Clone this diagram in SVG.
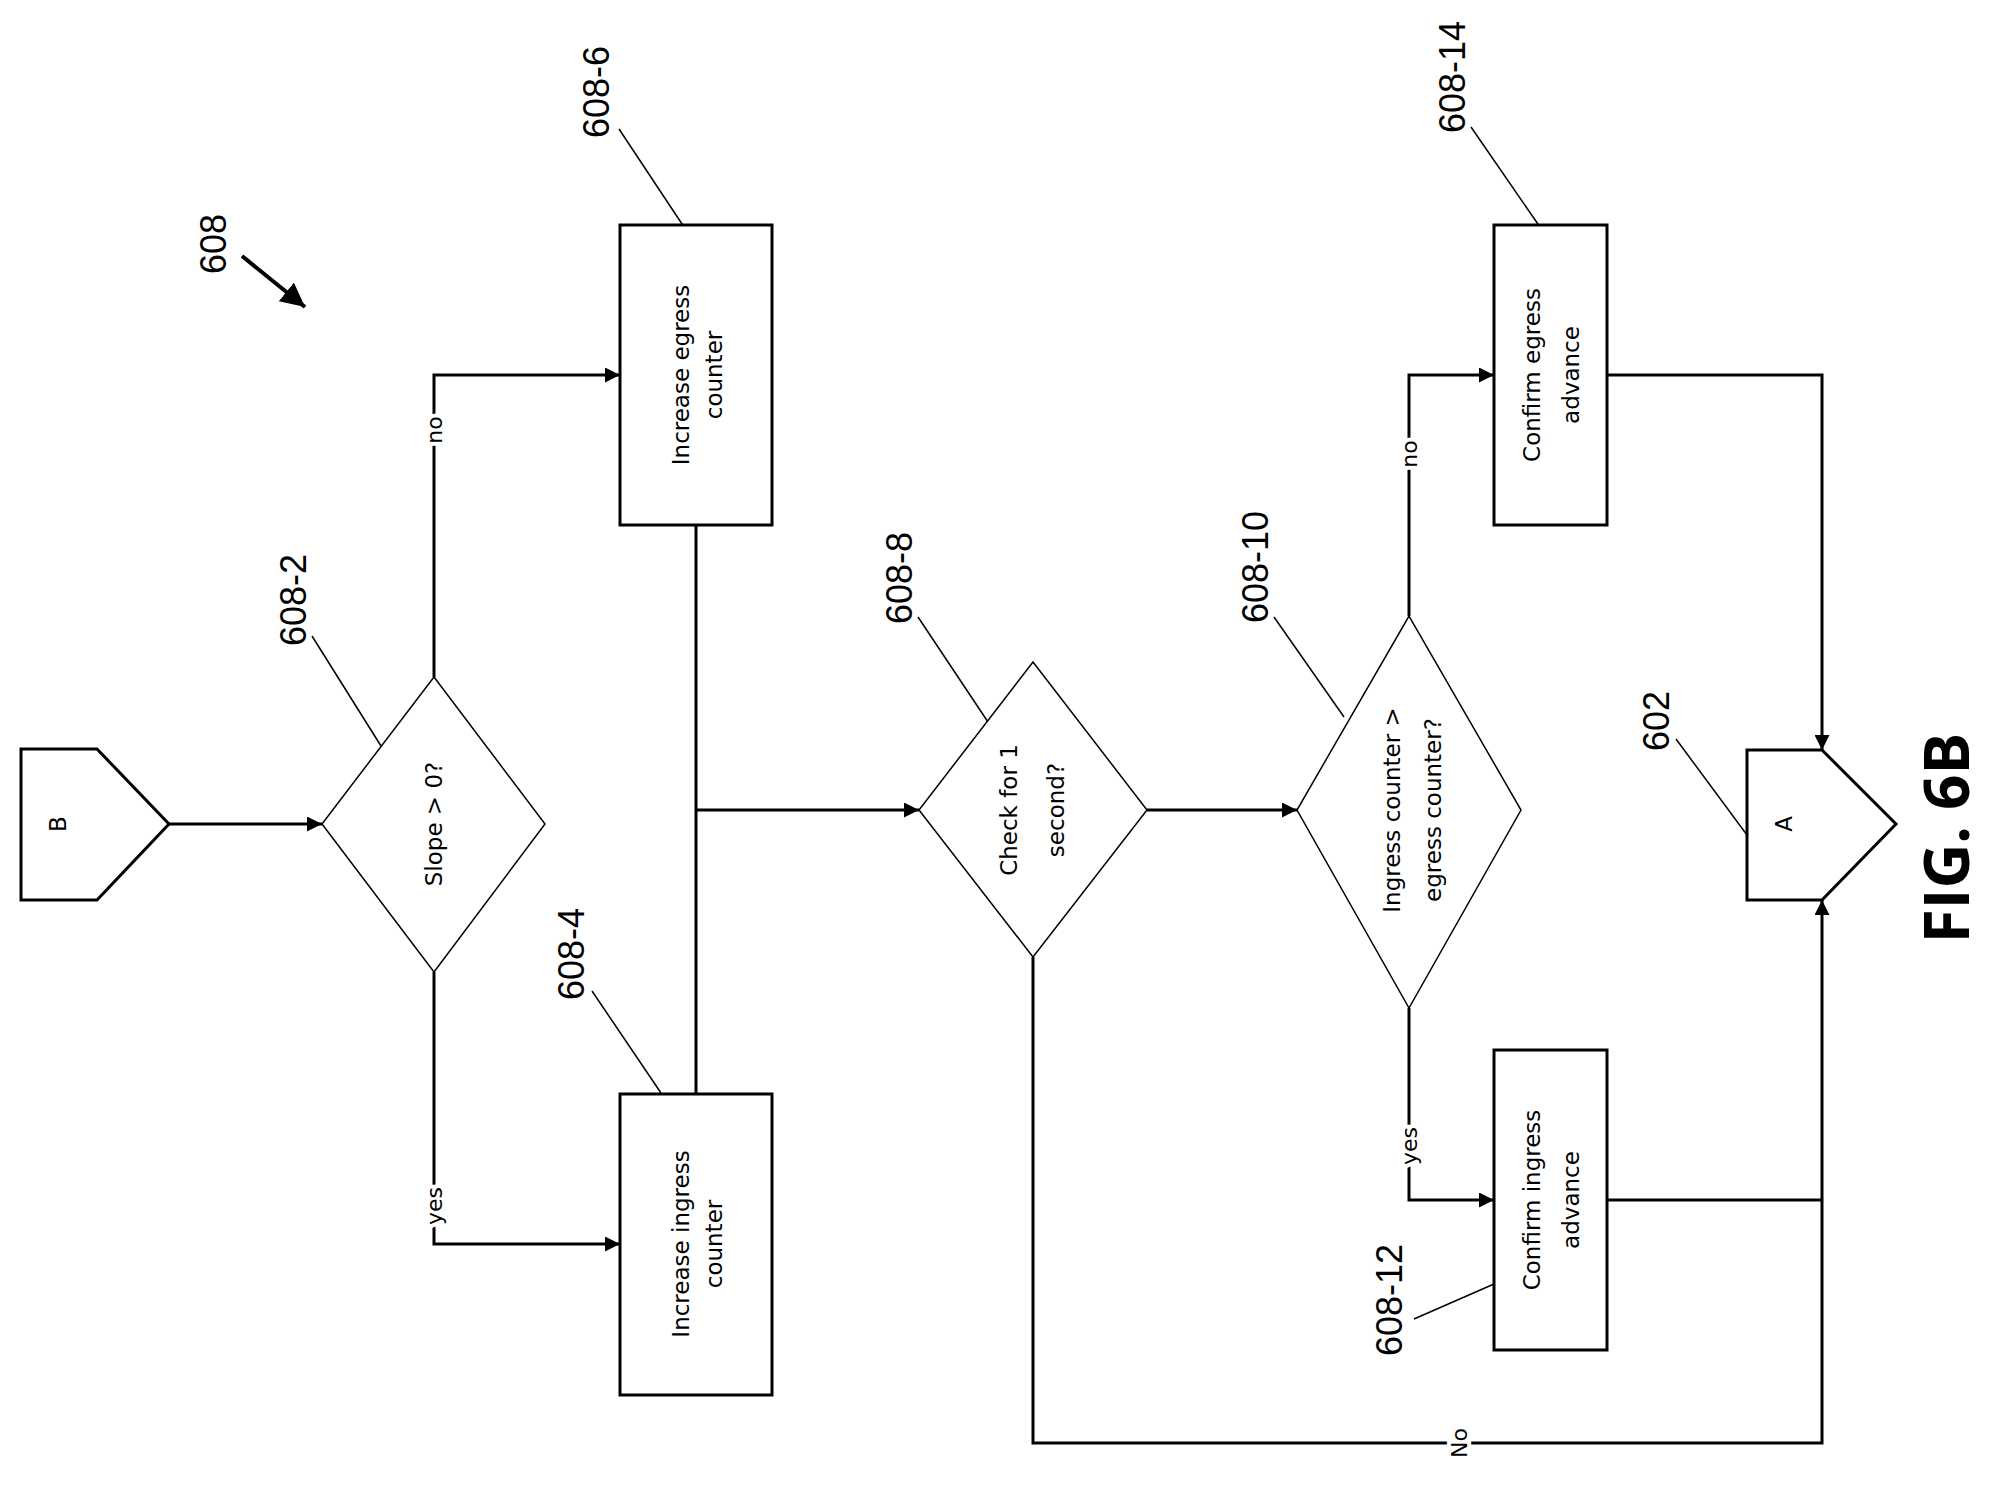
<svg xmlns="http://www.w3.org/2000/svg" width="1991" height="1485" viewBox="0 0 1991 1485">
<style>
.shape{fill:#fff;stroke:#000;stroke-width:3}
.dia{fill:#fff;stroke:#000;stroke-width:1.5}
.conn{fill:none;stroke:#000;stroke-width:3}
.lead{fill:none;stroke:#000;stroke-width:1.5}
.t{font-family:"DejaVu Sans",sans-serif;font-size:23px;text-anchor:middle;fill:#000}
.ref{font-family:"Liberation Sans",Arial,sans-serif;font-size:36px;text-anchor:middle;fill:#000}
.lab{font-family:"DejaVu Sans",sans-serif;font-size:22px;text-anchor:middle;fill:#000;stroke:#fff;stroke-width:8;paint-order:stroke}
.fig{font-family:"Open Sans","DejaVu Sans",sans-serif;font-weight:bold;font-size:62px;text-anchor:middle;fill:#000}
</style>
<defs>
<marker id="ah" viewBox="0 0 10 10" refX="10" refY="5" markerWidth="5" markerHeight="5" orient="auto" markerUnits="strokeWidth">
<path d="M0,0 L10,5 L0,10 Z" fill="#000"/>
</marker>
<marker id="big" viewBox="0 0 10 10" refX="10" refY="5" markerWidth="6" markerHeight="6" orient="auto" markerUnits="strokeWidth">
<path d="M0,0 L10,5 L0,10 Z" fill="#000"/>
</marker>
</defs>

<g id="connectors">
<line class="conn" x1="169" y1="824" x2="322" y2="824" marker-end="url(#ah)"/>
<polyline class="conn" points="434,677 434,375 620,375" marker-end="url(#ah)"/>
<polyline class="conn" points="434,972 434,1244 620,1244" marker-end="url(#ah)"/>
<line class="conn" x1="696" y1="525" x2="696" y2="1094"/>
<line class="conn" x1="696" y1="810" x2="919" y2="810" marker-end="url(#ah)"/>
<line class="conn" x1="1147" y1="810" x2="1297" y2="810" marker-end="url(#ah)"/>
<polyline class="conn" points="1409,616 1409,375 1494,375" marker-end="url(#ah)"/>
<polyline class="conn" points="1409,1008 1409,1200 1494,1200" marker-end="url(#ah)"/>
<polyline class="conn" points="1607,375 1822,375 1822,750" marker-end="url(#ah)"/>
<line class="conn" x1="1607" y1="1200" x2="1822" y2="1200"/>
<polyline class="conn" points="1033,957 1033,1443 1822,1443 1822,900" marker-end="url(#ah)"/>
<text class="lab" transform="translate(442,430) rotate(-90)">no</text>
<text class="lab" transform="translate(442,1206) rotate(-90)">yes</text>
<text class="lab" transform="translate(1417,454) rotate(-90)">no</text>
<text class="lab" transform="translate(1417,1146) rotate(-90)">yes</text>
<text class="lab" transform="translate(1467,1443) rotate(-90)">No</text>
<line x1="242" y1="256" x2="305" y2="307" stroke="#000" stroke-width="4" marker-end="url(#big)"/>
<line class="lead" x1="312" y1="636" x2="381" y2="746"/>
<line class="lead" x1="619" y1="129" x2="686" y2="230"/>
<line class="lead" x1="592" y1="991" x2="661" y2="1093"/>
<line class="lead" x1="918" y1="617" x2="988" y2="722"/>
<line class="lead" x1="1274" y1="617" x2="1344" y2="717"/>
<line class="lead" x1="1471" y1="127" x2="1540" y2="227"/>
<line class="lead" x1="1414" y1="1319" x2="1494" y2="1284"/>
<line class="lead" x1="1676" y1="739" x2="1747" y2="835"/>
</g>

<g id="label-608"><text class="ref" transform="translate(226,244) rotate(-90)">608</text></g>

<g id="node-B">
<path class="shape" d="M21,749 H97 L169,824 L97,900 H21 Z"/>
<text class="t" font-size="18" transform="translate(66,824) rotate(-90)">B</text>
</g>

<g id="node-608-2">
<path class="dia" d="M434,677 L545,824 L434,972 L322,824 Z"/>
<text class="t" transform="translate(442,824) rotate(-90)">Slope &gt; 0?</text>
<text class="ref" transform="translate(306,600) rotate(-90)">608-2</text>
</g>

<g id="node-608-6">
<rect class="shape" x="620" y="225" width="152" height="300"/>
<text class="t" transform="translate(689,375) rotate(-90)">Increase egress</text>
<text class="t" transform="translate(722,375) rotate(-90)">counter</text>
<text class="ref" transform="translate(609,92) rotate(-90)">608-6</text>
</g>

<g id="node-608-4">
<rect class="shape" x="620" y="1094" width="152" height="301"/>
<text class="t" transform="translate(689,1244) rotate(-90)">Increase ingress</text>
<text class="t" transform="translate(722,1244) rotate(-90)">counter</text>
<text class="ref" transform="translate(584,954) rotate(-90)">608-4</text>
</g>

<g id="node-608-8">
<path class="dia" d="M1033,662 L1147,810 L1033,957 L919,810 Z"/>
<text class="t" transform="translate(1017,810) rotate(-90)">Check for 1</text>
<text class="t" transform="translate(1064,810) rotate(-90)">second?</text>
<text class="ref" transform="translate(912,578) rotate(-90)">608-8</text>
</g>

<g id="node-608-10">
<path class="dia" d="M1409,616 L1521,810 L1409,1008 L1297,810 Z"/>
<text class="t" transform="translate(1400,810) rotate(-90)">Ingress counter &gt;</text>
<text class="t" transform="translate(1441,810) rotate(-90)">egress counter?</text>
<text class="ref" transform="translate(1268,567) rotate(-90)">608-10</text>
</g>

<g id="node-608-14">
<rect class="shape" x="1494" y="225" width="113" height="300"/>
<text class="t" transform="translate(1540,375) rotate(-90)">Confirm egress</text>
<text class="t" transform="translate(1579,375) rotate(-90)">advance</text>
<text class="ref" transform="translate(1465,77) rotate(-90)">608-14</text>
</g>

<g id="node-608-12">
<rect class="shape" x="1494" y="1050" width="113" height="300"/>
<text class="t" transform="translate(1540,1200) rotate(-90)">Confirm ingress</text>
<text class="t" transform="translate(1579,1200) rotate(-90)">advance</text>
<text class="ref" transform="translate(1402,1300) rotate(-90)">608-12</text>
</g>

<g id="node-A">
<path class="shape" d="M1747,750 H1822 L1896,824 L1822,900 H1747 Z"/>
<text class="t" font-size="18" transform="translate(1792,824) rotate(-90)">A</text>
<text class="ref" transform="translate(1669,721) rotate(-90)">602</text>
</g>

<g id="fig-label"><text class="fig" transform="translate(1969,838) rotate(-90)">FIG. 6B</text></g>
</svg>
